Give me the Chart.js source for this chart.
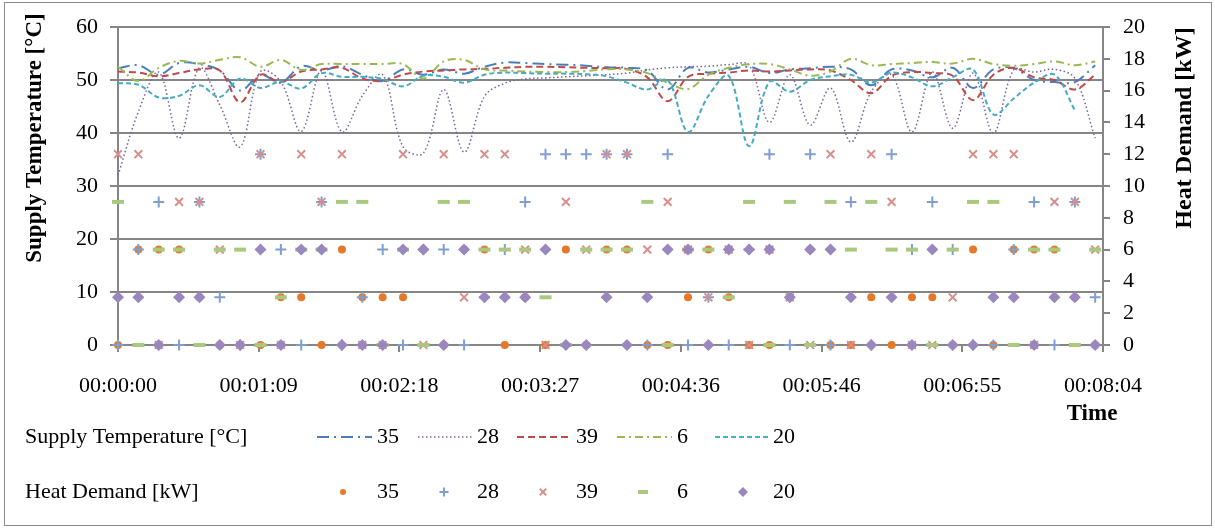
<!DOCTYPE html>
<html>
<head>
<meta charset="utf-8">
<script src="https://cdn.jsdelivr.net/npm/chart.js@4"></script>
<style>
  html, body { margin: 0; padding: 0; background: #fff; }
</style>
</head>
<body>
<canvas id="chart" width="1215" height="529"></canvas>
<script>
// sample times in seconds (every 10 s)
var times = [0,10,20,30,40,50,60,70,80,90,100,110,120,130,140,150,160,170,180,190,200,
	210,220,230,240,250,260,270,280,290,300,310,320,330,340,350,360,370,380,390,400,
	410,420,430,440,450,460,470,480];
// Excel-style date axis ticks (major unit 0.0008 day)
var tickSeconds = [0, 69.12, 138.24, 207.36, 276.48, 345.6, 414.72, 483.84];
var seriesNames = ["35", "28", "39", "6", "20"];

// Supply Temperature [°C]
var supply35 = [52.2,52.8,51,53.2,53,51.8,48,51,49.5,52.6,51.8,52.6,
	51,49.8,52,51,52,51.2,52.5,53.3,53.2,53,52.9,52.7,
	52.4,52.3,51.8,48.2,52.3,51.4,52,52.5,51.3,52,52.2,52.5,
	52,49,52,51.8,50.5,52.3,48.5,52,52.2,50,49.6,49.6,52.8];
var supply28 = [32,44,51.5,39,52.3,45.3,37.4,51.6,49.7,40.3,51.8,40.2,
	47,51,37.4,36.2,48.2,36.4,46.9,49.4,50.2,50.4,50.6,50.8,
	51,51.3,51.9,52.3,52.5,52.6,52.9,52.8,42,51,41.5,48.5,
	38.3,47.8,51,40.2,51.5,40.9,51.3,40,51.9,51.5,52,50.3,39];
var supply39 = [51.6,51.4,50.7,51.3,52,51.8,45.8,51,49.6,51.6,52,52.3,
	50.3,49.8,51,51.6,51.8,52,52.1,52.3,52.5,52.5,52.4,52.3,
	52.2,52.1,50.5,46,50.6,51.2,51.4,51.8,51.6,51.8,52,51.8,
	50,47.5,50.8,51.5,51.3,50.8,46.2,51,52.3,50.5,50,48.2,51];
var supply6 = [52.5,49.8,52.3,53.6,53.1,53.8,54.3,52.5,53.8,51.9,53,53,
	53,53,53,50.3,53.5,53.8,52,51.8,51.6,51.5,51.5,51.7,
	52,52,51.3,49.5,48.3,51,52.3,53,53,52,50.8,51.6,
	54,52.8,53,53.2,53.4,53.1,54,53,52.7,53,53.5,52.8,53.5];
var supply20 = [49.4,49.1,46.7,47,49,46.8,50.3,48.5,49.7,48.4,51.3,50.6,
	50.6,50.2,48.8,50.8,50.6,49.5,51,51.4,51.3,51.2,51.2,51.1,
	50.7,49.5,48.2,50,40.2,47,50.8,37.5,49.7,47.8,50,50.7,
	51,49.5,51.4,50.5,48.8,50.5,52,43.5,46.5,49.5,51,44.3,null];

// Heat Demand [kW]
var heat35 = [0,6,6,6,3,0,0,0,3,3,0,6,3,3,3,6,0,6,6,0,3,0,6,0,6,6,0,0,3,6,3,0,0,3,6,0,0,3,0,3,3,0,6,0,6,6,6,3,0];
var heat28 = [0,6,9,0,9,3,0,12,6,0,9,0,3,6,0,6,6,0,3,6,9,12,12,12,12,12,0,12,0,3,0,6,12,0,12,0,9,0,12,6,9,6,0,0,6,9,0,9,3];
var heat39 = [12,12,0,9,9,6,0,12,0,12,9,12,0,0,12,0,12,3,12,12,6,0,9,6,12,12,6,9,6,3,6,0,6,3,0,12,0,12,9,0,0,3,12,12,12,0,9,9,6];
var heat6  = [9,0,6,6,0,6,6,0,3,6,6,9,9,0,6,0,9,9,6,6,6,3,0,6,6,6,9,0,6,6,3,9,0,9,0,9,6,9,6,6,0,6,9,9,0,6,6,0,6];
var heat20 = [3,3,0,3,3,0,0,6,0,6,6,0,0,0,6,6,0,6,3,3,3,6,0,0,3,0,3,6,6,0,6,6,6,3,6,6,3,0,3,0,6,0,0,3,3,0,3,3,0];

function pts(vals) {
	return vals.map(function(v, i) { return { x: times[i], y: v }; });
}

function hms(sec) {
	var s = Math.round(sec);
	var h = Math.floor(s / 3600), m = Math.floor((s % 3600) / 60), r = s % 60;
	function p(n) { return (n < 10 ? "0" : "") + n; }
	return p(h) + ":" + p(m) + ":" + p(r);
}

var FONT = '"Liberation Serif", "Times New Roman", serif';
var GRID = '#868686';

function lineSet(label, data, color, dash, width, order) {
	return {
		type: 'line', label: label, data: pts(data), yAxisID: 'y',
		borderColor: color, borderDash: dash, borderWidth: width,
		pointRadius: 0, tension: 0.35, fill: false, spanGaps: false,
		order: order, clip: false
	};
}
function markSet(label, data, color, style, radius, bw, order) {
	return {
		type: 'scatter', label: label, data: pts(data), yAxisID: 'y2',
		pointStyle: style, pointRadius: radius, pointBorderWidth: bw,
		pointBackgroundColor: color, pointBorderColor: color,
		showLine: false, order: order, clip: false
	};
}

var datasets = [
	lineSet(seriesNames[0], supply35, '#4A7EBB', [12, 5, 2, 5], 2, 10),
	lineSet(seriesNames[1], supply28, '#7D60A0', [1.5, 2.5], 1.5, 9),
	lineSet(seriesNames[2], supply39, '#BE4B48', [7, 4], 2, 8),
	lineSet(seriesNames[3], supply6, '#98B954', [8, 4, 2, 4], 2, 7),
	lineSet(seriesNames[4], supply20, '#46AAC5', [5, 3], 2, 6),
	markSet(seriesNames[0], heat35, '#E5792A', 'circle', 4, 0, 5),
	markSet(seriesNames[1], heat28, '#7F9FD0', 'cross', 5.5, 2, 4),
	markSet(seriesNames[2], heat39, '#D78F8C', 'crossRot', 5.5, 2, 3),
	markSet(seriesNames[3], heat6, '#A9C97F', 'line', 6, 4, 2),
	markSet(seriesNames[4], heat20, '#9A87BE', 'rectRot', 6, 0, 1)
];

var extras = {
	id: 'extras',
	beforeDraw: function(chart) {
		var ctx = chart.ctx;
		ctx.save();
		ctx.fillStyle = '#fff';
		ctx.fillRect(0, 0, chart.width, chart.height);
		ctx.strokeStyle = '#8c8c8c';
		ctx.lineWidth = 1;
		ctx.strokeRect(4.5, 2.5, 1207, 523);
		ctx.restore();
	},
	afterDraw: function(chart) {
		var ctx = chart.ctx;
		ctx.save();
		ctx.fillStyle = '#000';
		ctx.textBaseline = 'middle';
		ctx.textAlign = 'center';
		// axis titles
		ctx.font = 'bold 23px ' + FONT;
		ctx.save();
		ctx.translate(35, 138);
		ctx.rotate(-Math.PI / 2);
		ctx.fillText('Supply Temperature [°C]', 0, 0);
		ctx.restore();
		ctx.font = 'bold 24px ' + FONT;
		ctx.save();
		ctx.translate(1185, 128);
		ctx.rotate(-Math.PI / 2);
		ctx.fillText('Heat Demand [kW]', 0, 0);
		ctx.restore();
		ctx.font = 'bold 23px ' + FONT;
		ctx.fillText('Time', 1092, 414);

		// legend
		ctx.font = '22px ' + FONT;
		ctx.textAlign = 'left';
		var row1 = 437, row2 = 492;
		ctx.fillText('Supply Temperature [°C]', 25, row1);
		ctx.fillText('Heat Demand [kW]', 25, row2);
		var lineX = [317, 418, 517, 617, 715];
		var textX = [377, 477, 576, 677, 773];
		var markX = [343, 444, 543, 643, 743];
		for (var i = 0; i < 5; i++) {
			var ds = chart.data.datasets[i];
			ctx.save();
			ctx.strokeStyle = ds.borderColor;
			ctx.lineWidth = ds.borderWidth;
			ctx.setLineDash(ds.borderDash);
			ctx.beginPath();
			ctx.moveTo(lineX[i], row1);
			ctx.lineTo(lineX[i] + 55, row1);
			ctx.stroke();
			ctx.restore();
			ctx.fillText(seriesNames[i], textX[i], row1);

			var ms = chart.data.datasets[i + 5];
			ctx.save();
			ctx.fillStyle = ms.pointBackgroundColor;
			ctx.strokeStyle = ms.pointBorderColor;
			ctx.lineWidth = ms.pointBorderWidth;
			Chart.helpers.drawPoint(ctx, {
				pointStyle: ms.pointStyle, radius: ms.pointStyle === 'circle' ? 3 : ms.pointRadius - 1,
				borderWidth: ms.pointBorderWidth, rotation: 0
			}, markX[i], row2);
			ctx.restore();
			ctx.fillText(seriesNames[i], textX[i], row2);
		}
		ctx.restore();
	}
};

var chart = new Chart(document.getElementById('chart').getContext('2d'), {
	data: { datasets: datasets },
	options: {
		responsive: false,
		animation: false,
		devicePixelRatio: 1,
		layout: { padding: { top: 27, left: 0, right: 0, bottom: 0 } },
		plugins: { legend: { display: false }, tooltip: { enabled: false } },
		scales: {
			x: {
				type: 'linear', min: 0, max: tickSeconds[tickSeconds.length - 1],
				afterBuildTicks: function(axis) {
					axis.ticks = tickSeconds.map(function(v) { return { value: v }; });
				},
				afterFit: function(s) { s.height = 184; },
				grid: { drawOnChartArea: false, drawTicks: true, tickLength: 7, color: GRID, lineWidth: 2 },
				border: { color: GRID, width: 2 },
				ticks: {
					autoSkip: false, maxRotation: 0, padding: 21, color: '#000',
					font: { family: FONT, size: 22 },
					callback: function(v) { return hms(v); }
				}
			},
			y: {
				position: 'left', min: 0, max: 60,
				afterFit: function(s) { s.width = 118; },
				grid: { color: GRID, lineWidth: 2, tickLength: 8 },
				border: { color: GRID, width: 2 },
				ticks: { stepSize: 10, padding: 12, color: '#000', font: { family: FONT, size: 22 } }
			},
			y2: {
				position: 'right', min: 0, max: 20,
				afterFit: function(s) { s.width = 112; },
				grid: { drawOnChartArea: false, color: GRID, lineWidth: 2, tickLength: 7 },
				border: { color: GRID, width: 2 },
				ticks: { stepSize: 2, padding: 13, color: '#000', font: { family: FONT, size: 22 } }
			}
		}
	},
	plugins: [extras]
});
</script>
</body>
</html>
